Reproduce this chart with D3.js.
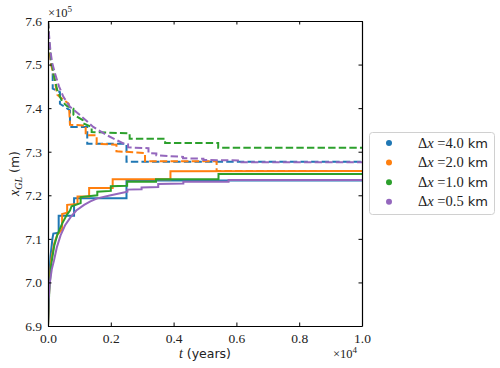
<!DOCTYPE html>
<html>
<head>
<meta charset="utf-8" />
<title>Grounding line position</title>
<script src="https://d3js.org/d3.v7.min.js"></script>
<style>
  body { margin: 0; background: #ffffff; }
</style>
</head>
<body>
<svg id="viz"></svg>

<script>
// t in units of 1e4 years, x_GL in units of 1e5 m
var xTicks = [0.0, 0.2, 0.4, 0.6, 0.8, 1.0];
var yTicks = [6.9, 7.0, 7.1, 7.2, 7.3, 7.4, 7.5, 7.6];

var labels = ["4.0", "2.0", "1.0", "0.5"];
var colors = ["#1f77b4", "#ff7f0e", "#2ca02c", "#9467bd"];

// advancing runs (solid)
var adv40 = [[0,6.9],[0.003,7.0],[0.008,7.06],[0.014,7.1],[0.017,7.112],[0.034,7.114],[0.034,7.153],[0.083,7.153],[0.083,7.193],[0.25,7.193],[0.25,7.234],[1,7.234]];
var adv20 = [[0,6.9],[0.004,6.99],[0.01,7.05],[0.02,7.09],[0.03,7.11],[0.045,7.122],[0.045,7.157],[0.061,7.16],[0.061,7.178],[0.094,7.18],[0.094,7.197],[0.131,7.197],[0.131,7.217],[0.206,7.217],[0.206,7.237],[0.39,7.237],[0.39,7.255],[1,7.256]];
var adv10 = [[0,6.9],[0.004,6.98],[0.01,7.04],[0.02,7.085],[0.03,7.11],[0.045,7.135],[0.06,7.155],[0.07,7.165],[0.075,7.175],[0.104,7.182],[0.104,7.196],[0.157,7.2],[0.157,7.208],[0.2,7.21],[0.2,7.221],[0.252,7.222],[0.252,7.231],[0.344,7.231],[0.344,7.237],[0.543,7.237],[0.543,7.249],[1,7.249]];
var adv05 = [[0,6.9],[0.002,6.96],[0.006,7.0],[0.012,7.03],[0.019,7.05],[0.028,7.08],[0.04,7.108],[0.055,7.132],[0.072,7.15],[0.09,7.165],[0.115,7.178],[0.135,7.186],[0.157,7.193],[0.2,7.2],[0.253,7.208],[0.253,7.213],[0.298,7.214],[0.298,7.218],[0.351,7.219],[0.351,7.226],[0.431,7.227],[0.431,7.231],[0.575,7.231],[0.575,7.235],[1,7.235]];

// retreating runs (dashed)
var ret40 = [[0,7.6],[0.004,7.54],[0.01,7.5],[0.015,7.49],[0.015,7.445],[0.038,7.437],[0.038,7.41],[0.07,7.395],[0.07,7.357],[0.125,7.357],[0.125,7.318],[0.25,7.318],[0.25,7.277],[1,7.277]];
var ret20 = [[0,7.6],[0.004,7.54],[0.01,7.5],[0.022,7.464],[0.026,7.445],[0.03,7.43],[0.044,7.422],[0.066,7.41],[0.068,7.39],[0.07,7.362],[0.12,7.36],[0.12,7.338],[0.155,7.338],[0.155,7.318],[0.218,7.316],[0.218,7.301],[0.309,7.297],[0.309,7.278],[0.537,7.278],[0.537,7.256],[1,7.256]];
var ret10 = [[0,7.6],[0.004,7.55],[0.01,7.51],[0.02,7.47],[0.03,7.44],[0.045,7.415],[0.06,7.405],[0.081,7.399],[0.081,7.385],[0.112,7.372],[0.112,7.365],[0.139,7.357],[0.139,7.345],[0.26,7.342],[0.26,7.33],[0.373,7.33],[0.373,7.32],[0.542,7.32],[0.542,7.309],[1,7.309]];
var ret05 = [[0,7.6],[0.003,7.57],[0.008,7.53],[0.013,7.505],[0.022,7.48],[0.035,7.45],[0.049,7.426],[0.07,7.403],[0.102,7.384],[0.144,7.357],[0.187,7.338],[0.24,7.319],[0.255,7.317],[0.255,7.31],[0.32,7.308],[0.32,7.297],[0.345,7.296],[0.345,7.292],[0.43,7.288],[0.43,7.285],[0.495,7.284],[0.495,7.281],[0.61,7.28],[0.61,7.276],[1,7.276]];

var advance = [adv40, adv20, adv10, adv05];
var retreat = [ret40, ret20, ret10, ret05];

var SERIF = "Liberation Serif";
var SANS = "DejaVu Sans";

var width = 500, height = 368;
var margin = {top: 21, right: 138, bottom: 42, left: 48};

var svg = d3.select("#viz")
  .attr("width", width)
  .attr("height", height);

var xScale = d3.scaleLinear()
  .domain([0, 1])
  .range([margin.left, width - margin.right]);

var yScale = d3.scaleLinear()
  .domain([6.9, 7.6])
  .range([height - margin.bottom, margin.top]);

svg.append("clipPath").attr("id", "clip")
  .append("rect")
  .attr("x", xScale(0)).attr("y", yScale(7.6))
  .attr("width", xScale(1) - xScale(0))
  .attr("height", yScale(6.9) - yScale(7.6));

var line = d3.line()
  .x(function(d) { return xScale(d[0]); })
  .y(function(d) { return yScale(d[1]); });

var lines = svg.append("g").attr("clip-path", "url(#clip)");

// each resolution: solid then dashed
advance.forEach(function(series, i) {
  lines.append("path")
    .datum(series)
    .attr("d", line)
    .attr("fill", "none")
    .attr("stroke", colors[i])
    .attr("stroke-width", 2);
  lines.append("path")
    .datum(retreat[i])
    .attr("d", line)
    .attr("fill", "none")
    .attr("stroke", colors[i])
    .attr("stroke-width", 2)
    .attr("stroke-dasharray", "7.4,3.2");
});

// axes, ticks pointing in, on all four sides
var tickLen = 3.5;
svg.append("g")
  .attr("transform", "translate(0," + yScale(6.9) + ")")
  .call(d3.axisBottom(xScale).tickValues(xTicks).tickSizeInner(-tickLen).tickSizeOuter(0).tickPadding(7)
    .tickFormat(d3.format(".1f")))
  .call(styleAxis);
svg.append("g")
  .attr("transform", "translate(0," + yScale(7.6) + ")")
  .call(d3.axisTop(xScale).tickValues(xTicks).tickSizeInner(-tickLen).tickSizeOuter(0).tickFormat(""))
  .call(styleAxis);
svg.append("g")
  .attr("transform", "translate(" + xScale(0) + ",0)")
  .call(d3.axisLeft(yScale).tickValues(yTicks).tickSizeInner(-tickLen).tickSizeOuter(0).tickPadding(6)
    .tickFormat(d3.format(".1f")))
  .call(styleAxis);
svg.append("g")
  .attr("transform", "translate(" + xScale(1) + ",0)")
  .call(d3.axisRight(yScale).tickValues(yTicks).tickSizeInner(-tickLen).tickSizeOuter(0).tickFormat(""))
  .call(styleAxis);

function styleAxis(g) {
  g.attr("font-family", SERIF).attr("font-size", 13);
  g.select(".domain").attr("stroke", "#000").attr("stroke-width", 1.2);
  g.selectAll(".tick line").attr("stroke", "#000").attr("stroke-width", 1);
  g.selectAll("text")
    .attr("font-family", SERIF)
    .attr("font-size", 13.5)
    .attr("fill", "#222");
}

// offset texts
var off5 = svg.append("text").attr("x", xScale(0)).attr("y", 17)
  .attr("font-family", SERIF).attr("font-size", 12.5).attr("fill", "#222");
off5.append("tspan").text("\u00d710");
off5.append("tspan").attr("dy", -5).attr("font-size", 9).text("5");

var off4 = svg.append("text").attr("x", 333).attr("y", 358)
  .attr("font-family", SERIF).attr("font-size", 12.5).attr("fill", "#222");
off4.append("tspan").text("\u00d710");
off4.append("tspan").attr("dy", -5).attr("font-size", 9).text("4");

// axis labels
var xl = svg.append("text")
  .attr("x", (xScale(0) + xScale(1)) / 2)
  .attr("y", 358)
  .attr("text-anchor", "middle")
  .attr("fill", "#222");
xl.append("tspan").attr("font-family", SERIF).attr("font-style", "italic").attr("font-size", 14).text("t");
xl.append("tspan").attr("font-family", SANS).attr("font-size", 12.5).text(" (years)");

var yl = svg.append("text")
  .attr("transform", "translate(19," + ((yScale(6.9) + yScale(7.6)) / 2) + ") rotate(-90)")
  .attr("text-anchor", "middle")
  .attr("fill", "#222");
yl.append("tspan").attr("font-family", SERIF).attr("font-style", "italic").attr("font-size", 14).text("x");
yl.append("tspan").attr("font-family", SERIF).attr("font-style", "italic").attr("font-size", 10).attr("dy", 3).text("GL");
yl.append("tspan").attr("font-family", SANS).attr("font-size", 12.5).attr("dy", -3).text(" (m)");

// legend
var legend = svg.append("g");
legend.append("rect")
  .attr("x", 369.5).attr("y", 132.5)
  .attr("width", 125).attr("height", 82)
  .attr("rx", 3)
  .attr("fill", "#fff")
  .attr("stroke", "#d0d0d0")
  .attr("stroke-width", 1);

labels.forEach(function(lab, i) {
  var cy = 143 + i * 19.6;
  legend.append("circle")
    .attr("cx", 389).attr("cy", cy).attr("r", 3)
    .attr("fill", colors[i]);
  var t = legend.append("text")
    .attr("x", 488).attr("y", cy + 4.5)
    .attr("text-anchor", "end")
    .attr("fill", "#222");
  t.append("tspan").attr("font-family", SERIF).attr("font-size", 14.5).text("\u0394");
  t.append("tspan").attr("font-family", SERIF).attr("font-style", "italic").attr("font-size", 14.5).text("x");
  t.append("tspan").attr("font-family", SERIF).attr("font-size", 14.5).text(" =" + lab);
  t.append("tspan").attr("font-family", SANS).attr("font-size", 13).text(" km");
});
</script>
</body>
</html>
